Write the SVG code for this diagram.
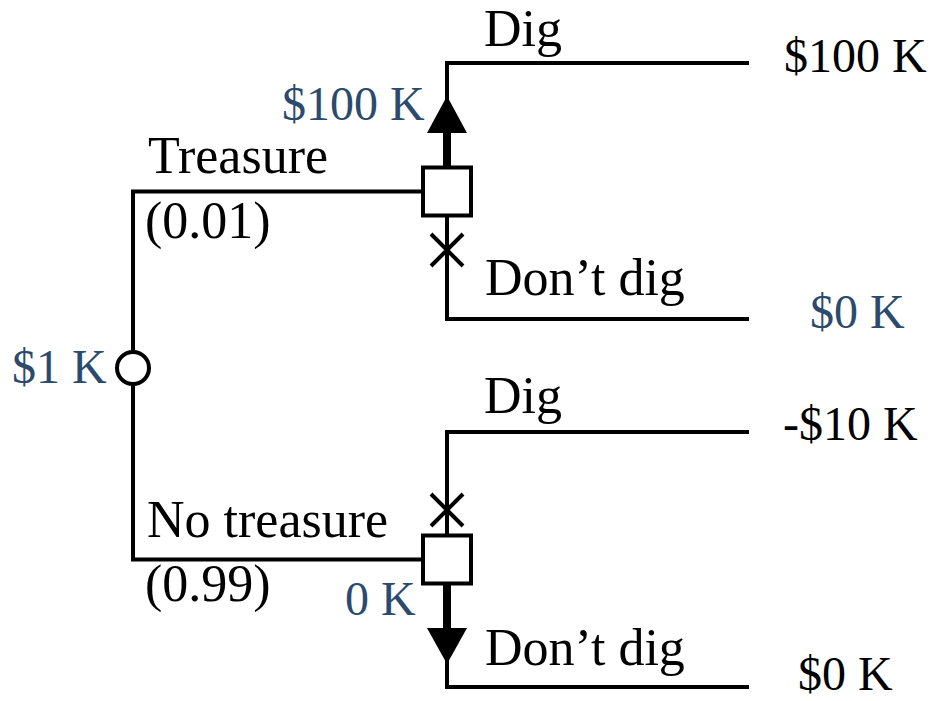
<svg xmlns="http://www.w3.org/2000/svg" width="931" height="701" viewBox="0 0 931 701">
<style>
.t{font-family:"Liberation Serif","Times New Roman",serif;font-size:48px;fill:#000}
.l{font-size:52px}
.b{fill:#2C4A6E}
.ln{fill:none;stroke:#000;stroke-width:4;stroke-linecap:square}
.nd{fill:#fff;stroke:#000;stroke-width:4}
.x{stroke:#000;stroke-width:4;fill:none}
</style>
<rect width="931" height="701" fill="#fff"/>
<g id="connectors">
<path class="ln" d="M133,352 V191.5 H423"/>
<path class="ln" d="M133,384 V559.5 H423"/>
<path class="ln" d="M747,63 H447 V319 H747"/>
<path class="ln" d="M747,432 H447 V687 H747"/>
<g id="best-top">
<line x1="447" y1="168" x2="447" y2="130" stroke="#000" stroke-width="8"/>
<polygon points="447,96 427,133 467,133" fill="#000"/>
</g>
<g id="best-bottom">
<line x1="447" y1="583" x2="447" y2="631" stroke="#000" stroke-width="8"/>
<polygon points="447,664 427,628 467,628" fill="#000"/>
</g>
<path class="x" d="M431,234 L463,266 M463,234 L431,266"/>
<path class="x" d="M431,494 L463,526 M463,494 L431,526"/>
</g>
<g id="chance">
<circle class="nd" cx="133" cy="368" r="16"/>
<text class="t b" x="12" y="383">$1 K</text>
</g>
<g id="decision-top">
<rect class="nd" x="423" y="167.5" width="48" height="48"/>
<text class="t b" x="282" y="120">$100 K</text>
</g>
<g id="decision-bottom">
<rect class="nd" x="423" y="535.5" width="48" height="48"/>
<text class="t b" x="345" y="615">0 K</text>
</g>
<g id="labels">
<text class="t l" x="148" y="173">Treasure</text>
<text class="t l" x="145" y="238">(0.01)</text>
<text class="t l" x="147" y="537">No treasure</text>
<text class="t l" x="145" y="601">(0.99)</text>
<text class="t l" x="484" y="46">Dig</text>
<text class="t l" x="485" y="295">Don’t dig</text>
<text class="t l" x="484" y="413">Dig</text>
<text class="t l" x="485" y="665">Don’t dig</text>
</g>
<g id="terminals">
<text class="t" x="784" y="72">$100 K</text>
<text class="t b" x="810" y="328">$0 K</text>
<text class="t" x="783" y="440">-$10 K</text>
<text class="t" x="798" y="690">$0 K</text>
</g>
</svg>
